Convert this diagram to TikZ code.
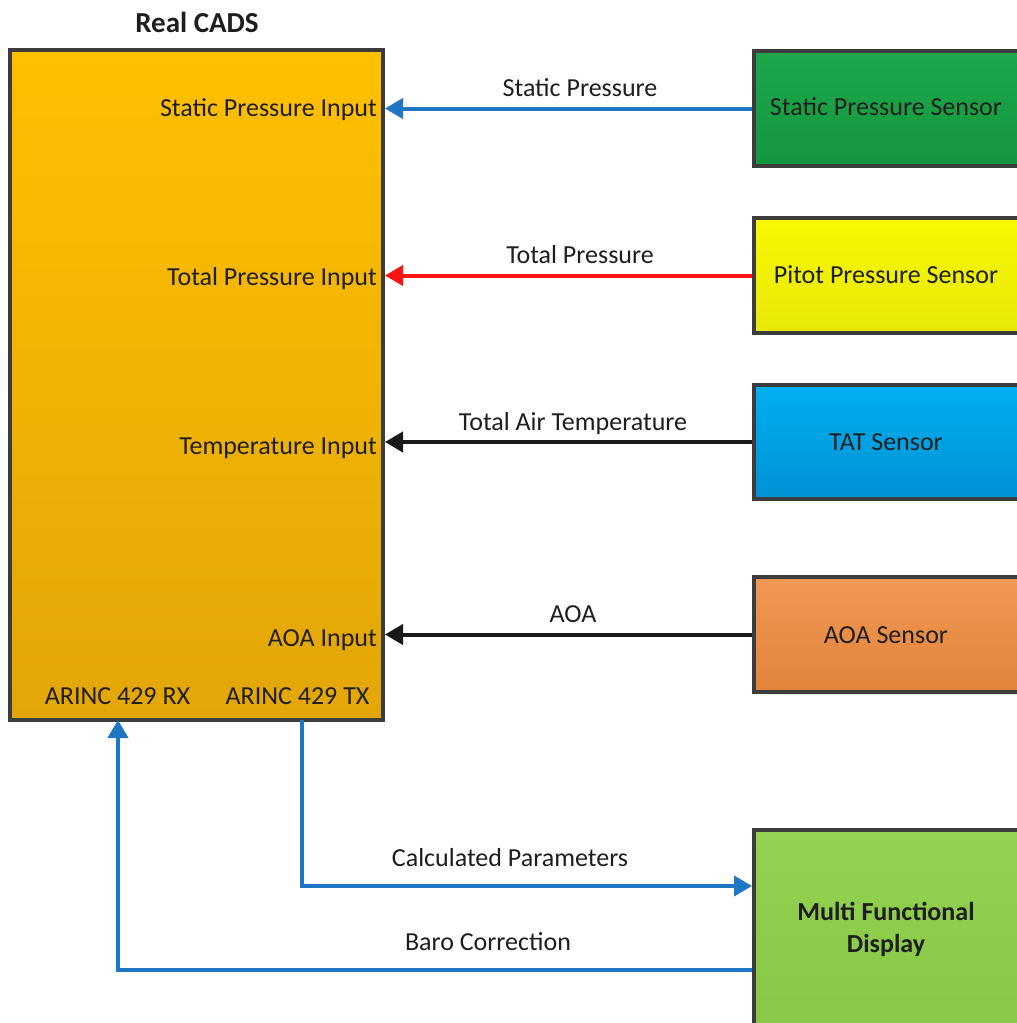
\documentclass[tikz,border=0pt]{standalone}
\usepackage{fontspec}
\setmainfont{Carlito}
\usetikzlibrary{arrows.meta}
\definecolor{cadsT}{RGB}{255,192,0}
\definecolor{cadsB}{RGB}{226,166,8}
\definecolor{spsT}{RGB}{28,168,74}
\definecolor{spsB}{RGB}{20,150,62}
\definecolor{ppsT}{RGB}{248,248,0}
\definecolor{ppsB}{RGB}{232,232,10}
\definecolor{tatT}{RGB}{0,176,240}
\definecolor{tatB}{RGB}{0,146,212}
\definecolor{aoaT}{RGB}{240,152,84}
\definecolor{aoaB}{RGB}{226,132,58}
\definecolor{mfdT}{RGB}{148,210,82}
\definecolor{mfdB}{RGB}{136,200,70}
\definecolor{edge}{RGB}{60,60,60}
\definecolor{txt}{RGB}{30,30,30}
\definecolor{lblue}{RGB}{31,119,196}
\definecolor{lred}{RGB}{250,20,20}
\definecolor{lblack}{RGB}{25,25,25}
\begin{document}
\begin{tikzpicture}[x=1pt,y=-1pt,
  box/.style={draw=edge,line width=4pt,rectangle,inner sep=0pt},
  lbl/.style={text=txt,font=\fontsize{26}{31}\selectfont,inner sep=0pt},
  blbl/.style={text=txt,font=\fontsize{26}{31}\selectfont\bfseries,inner sep=0pt,align=center},
  conn/.style={line width=4pt,-{Triangle[length=18pt,width=20pt]}},
  plain/.style={line width=4pt}]
\useasboundingbox (0,0) rectangle (1017,1023);
\fill[white] (0,0) rectangle (1017,1023);

% main box
\node[box,top color=cadsT,bottom color=cadsB,minimum width=373pt,minimum height=670pt] (cads) at (196.5,385) {};
\node[blbl,font=\fontsize{29}{34}\selectfont\bfseries,anchor=base] (title) at (197,32) {Real CADS};

% sensors
\node[box,top color=spsT,bottom color=spsB,minimum width=266pt,minimum height=115pt] (sps) at (887,108.5) {};
\node[box,top color=ppsT,bottom color=ppsB,minimum width=266pt,minimum height=115pt] (pps) at (887,275.5) {};
\node[box,top color=tatT,bottom color=tatB,minimum width=266pt,minimum height=114pt] (tat) at (887,442) {};
\node[box,top color=aoaT,bottom color=aoaB,minimum width=266pt,minimum height=115pt] (aoa) at (887,634.5) {};
\node[box,top color=mfdT,bottom color=mfdB,minimum width=266pt,minimum height=196pt] (mfd) at (887,928) {};

\node[lbl,anchor=base] (spst) at (886,115) {Static Pressure Sensor};
\node[lbl,anchor=base] (ppst) at (886,283) {Pitot Pressure Sensor};
\node[lbl,anchor=base] (tatt) at (886,450) {TAT Sensor};
\node[lbl,anchor=base] (aoat) at (886,643) {AOA Sensor};
\node[blbl,anchor=base] (mfdt1) at (886,920) {Multi Functional};
\node[blbl,anchor=base] (mfdt2) at (886,952) {Display};

% inputs
\node[lbl,anchor=base east] (in1) at (377,116) {Static Pressure Input};
\node[lbl,anchor=base east] (in2) at (377,285) {Total Pressure Input};
\node[lbl,anchor=base east] (in3) at (377,454) {Temperature Input};
\node[lbl,anchor=base east] (in4) at (377,646) {AOA Input};
\node[lbl,anchor=base] (rx) at (117.5,704) {ARINC 429 RX};
\node[lbl,anchor=base] (tx) at (297.5,704) {ARINC 429 TX};

% connectors
\draw[conn,lblue] (sps.west) -- (sps.west -| cads.east);
\draw[conn,lred] (pps.west) -- (pps.west -| cads.east);
\draw[conn,lblack] (tat.west) -- (tat.west -| cads.east);
\draw[conn,lblack] (aoa.west) -- (aoa.west -| cads.east);

\node[lbl,anchor=base] (l1) at (580,96) {Static Pressure};
\node[lbl,anchor=base] (l2) at (580,263) {Total Pressure};
\node[lbl,anchor=base] (l3) at (573,430) {Total Air Temperature};
\node[lbl,anchor=base] (l4) at (573,622) {AOA};

\coordinate (txx) at (302,720);
\coordinate (rxx) at (118,720);
\path (mfd.west) ++(0,-42) coordinate (mfdin);
\path (mfd.west) ++(0,42) coordinate (mfdout);
\draw[conn,lblue] (txx) |- (mfdin);
\draw[conn,lblue] (mfdout) -| (rxx);

\node[lbl,anchor=base] (l5) at (510,866) {Calculated Parameters};
\node[lbl,anchor=base] (l6) at (488,950) {Baro Correction};
\end{tikzpicture}
\end{document}
